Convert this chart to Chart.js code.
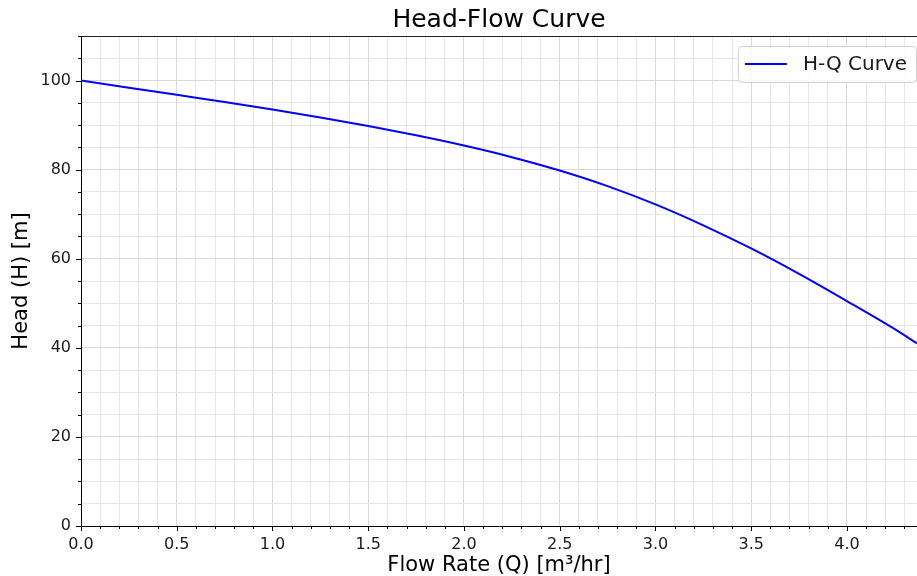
<!DOCTYPE html>
<html><head><meta charset="utf-8">
<script src="https://cdn.jsdelivr.net/npm/chart.js@4.4.1/dist/chart.umd.min.js"></script>
<style>html,body{margin:0;padding:0;background:#fff;overflow:hidden}</style>
</head><body>
<canvas id="c" width="917" height="576"></canvas>
<script>
// ---- data ----
const flowRate   = [0, 0.25, 0.5, 0.75, 1.0, 1.25, 1.5, 1.75, 2.0, 2.25, 2.5, 2.75, 3.0, 3.25, 3.5, 3.75, 4.0, 4.25, 4.366];
const headValues = [100, 98.4, 96.8, 95.2, 93.5, 91.7, 89.8, 87.7, 85.4, 82.8, 79.8, 76.3, 72.2, 67.5, 62.3, 56.6, 50.5, 44.2, 41.0];
const seriesLabel = 'H-Q Curve';
const chartTitle = 'Head-Flow Curve';
const xTitle = 'Flow Rate (Q) [m³/hr]';
const yTitle = 'Head (H) [m]';
const xMajorTicks = [0, 0.5, 1.0, 1.5, 2.0, 2.5, 3.0, 3.5, 4.0];
const yMajorTicks = [0, 20, 40, 60, 80, 100];
const xRange = [0, 4.366];
const yRange = [0, 110];
const xMinorStep = 0.1;
const yMinorStep = 5;

const FONT = 'DejaVu Sans';
const isMajor = (list, v) => list.some(t => Math.abs(t - v) < 1e-6);

const axisDecor = {
  id: 'axisDecor',
  afterDraw(chart) {
    const {ctx, chartArea: ca, scales: {x, y}} = chart;
    ctx.save();
    ctx.strokeStyle = '#000';
    ctx.lineWidth = 1;
    ctx.beginPath();
    x.ticks.forEach(t => {
      const px = Math.round(x.getPixelForValue(t.value)) + 0.5;
      const len = isMajor(xMajorTicks, t.value) ? 5 : 3;
      ctx.moveTo(px, ca.bottom); ctx.lineTo(px, ca.bottom + len);
    });
    y.ticks.forEach(t => {
      const py = Math.round(y.getPixelForValue(t.value)) + 0.5;
      const len = isMajor(yMajorTicks, t.value) ? 5 : 3;
      ctx.moveTo(ca.left, py); ctx.lineTo(ca.left - len, py);
    });
    ctx.stroke();
    // top spine
    ctx.strokeStyle = '#222';
    ctx.beginPath();
    ctx.moveTo(ca.left, Math.round(ca.top) + 0.5);
    ctx.lineTo(ca.right, Math.round(ca.top) + 0.5);
    ctx.stroke();

    // legend inside the axes (upper right)
    const ds = chart.data.datasets[0];
    ctx.font = '20px "' + FONT + '"';
    const tw = ctx.measureText(ds.label).width;
    const boxW = 7 + 42 + 16 + tw + 9;
    const boxH = 36;
    const bx = ca.right - 1 - boxW, by = ca.top + 10;
    ctx.fillStyle = 'rgba(255,255,255,0.85)';
    ctx.strokeStyle = '#d0d0d0';
    ctx.beginPath();
    ctx.roundRect(bx + 0.5, by + 0.5, boxW, boxH, 4);
    ctx.fill(); ctx.stroke();
    ctx.strokeStyle = ds.borderColor;
    ctx.lineWidth = 2;
    ctx.beginPath();
    ctx.moveTo(bx + 7, by + boxH / 2); ctx.lineTo(bx + 49, by + boxH / 2);
    ctx.stroke();
    ctx.fillStyle = '#1a1a1a';
    ctx.textBaseline = 'middle';
    ctx.textAlign = 'left';
    ctx.fillText(ds.label, bx + 65, by + boxH / 2 + 1);
    ctx.restore();
  }
};

new Chart(document.getElementById('c'), {
  type: 'line',
  data: {
    datasets: [{
      label: seriesLabel,
      data: flowRate.map((q, i) => ({x: q, y: headValues[i]})),
      borderColor: '#0000ff',
      borderWidth: 2,
      pointRadius: 0,
      cubicInterpolationMode: 'monotone',
      fill: false
    }]
  },
  options: {
    responsive: false,
    animation: false,
    layout: {padding: 0},
    plugins: {
      legend: {display: false},
      tooltip: {enabled: false},
      title: {
        display: true,
        text: chartTitle,
        fullSize: false,
        color: '#000',
        font: {family: FONT, size: 25, weight: 'normal'},
        padding: {top: 5, bottom: 1}
      }
    },
    scales: {
      x: {
        type: 'linear',
        min: xRange[0], max: xRange[1],
        afterFit(s) { s.height = 50; },
        border: {display: true, color: '#000', width: 1},
        grid: {
          drawTicks: false,
          color: c => isMajor(xMajorTicks, c.tick.value) ? '#d8d8d8' : '#e6e6e6',
          lineWidth: 1
        },
        ticks: {
          stepSize: xMinorStep,
          autoSkip: false,
          includeBounds: false,
          maxRotation: 0,
          padding: 9,
          color: '#1a1a1a',
          font: {family: FONT, size: 16},
          callback: v => isMajor(xMajorTicks, v) ? v.toFixed(1) : ''
        },
        title: {
          display: true, text: xTitle, color: '#000',
          font: {family: FONT, size: 21, lineHeight: 1.0},
          padding: {top: 0, bottom: 0}
        }
      },
      y: {
        type: 'linear',
        min: yRange[0], max: yRange[1],
        afterFit(s) { s.width = 81; },
        border: {display: true, color: '#000', width: 1},
        grid: {
          drawTicks: false,
          color: c => isMajor(yMajorTicks, c.tick.value) ? '#d8d8d8' : '#e6e6e6',
          lineWidth: 1
        },
        ticks: {
          stepSize: yMinorStep,
          autoSkip: false,
          includeBounds: false,
          padding: 10,
          color: '#1a1a1a',
          font: {family: FONT, size: 16},
          callback: v => isMajor(yMajorTicks, v) ? String(v) : ''
        },
        title: {
          display: true, text: yTitle, color: '#000',
          font: {family: FONT, size: 21},
          padding: {top: 9, bottom: 0}
        }
      }
    }
  },
  plugins: [axisDecor]
});
</script>
</body></html>
